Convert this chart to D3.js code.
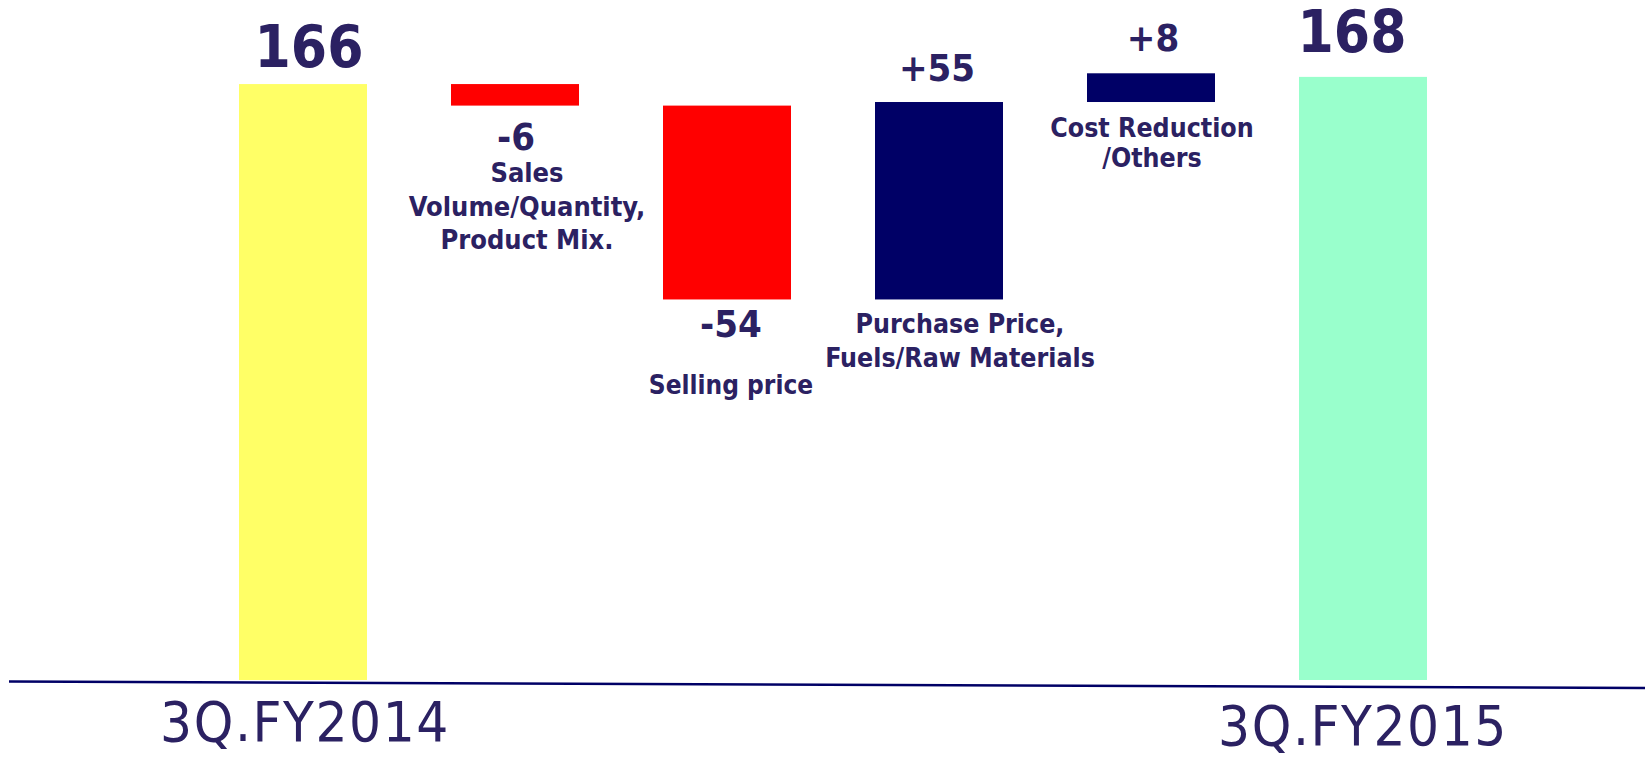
<!DOCTYPE html>
<html>
<head>
<meta charset="utf-8">
<script src="https://cdn.jsdelivr.net/npm/d3@7"></script>
<style>
  html, body { margin: 0; padding: 0; background: #ffffff; }
  svg { display: block; }
  text { font-family: "DejaVu Sans Condensed", "DejaVu Sans", sans-serif; fill: #2b2162; }
</style>
</head>
<body>
<svg id="chart" width="1645" height="757"></svg>
<script>
// Operating profit bridge, 3Q.FY2014 -> 3Q.FY2015
const categories = ["3Q.FY2014", "Sales Volume", "Selling price", "Purchase Price", "Cost Reduction", "3Q.FY2015"];
const values = [166, -6, -54, 55, 8, 168];
const kinds = ["total", "delta", "delta", "delta", "delta", "total"];
const valueLabels = ["166", "-6", "-54", "+55", "+8", "168"];
const factorLabels = [
  [],
  ["Sales", "Volume/Quantity,", "Product Mix."],
  ["Selling price"],
  ["Purchase Price,", "Fuels/Raw Materials"],
  ["Cost Reduction", "/Others"],
  []
];
const axisLabels = ["3Q.FY2014", "", "", "", "", "3Q.FY2015"];

const colors = { total0: "#ffff66", total1: "#99ffcc", down: "#ff0000", up: "#000066" };

// label placement relative to each bar (dx from bar centre, dy from bar end)
const valueLabelPos = [
  { dx: 6, dy: -17, at: "top" },
  { dx: 1, dy: 44, at: "bottom" },
  { dx: 4, dy: 37.5, at: "bottom" },
  { dx: -2, dy: -21, at: "top" },
  { dx: 2, dy: -22, at: "top" },
  { dx: -11, dy: -25, at: "top" }
];
const factorPos = [
  null,
  { dx: 12, y0: 182, lh: 33.5, fs: 27 },
  { dx: 4, y0: 394, lh: 34, fs: 26 },
  { dx: 21, y0: 333, lh: 34, fs: 26.5 },
  { dx: 1, y0: 137, lh: 29.5, fs: 26.5 }
];

const svg = d3.select("#chart");

const x = d3.scaleBand()
  .domain(categories)
  .range([197, 1469])
  .paddingInner(84 / 212)
  .paddingOuter(42 / 212);

const y = d3.scaleLinear().domain([0, 170]).range([680, 680 - 170 * 3.59]);

// running totals for the floating bars
let running = 0;
const bars = categories.map((c, i) => {
  let lo, hi;
  if (kinds[i] === "total") {
    lo = 0; hi = values[i]; running = values[i];
  } else {
    const start = running;
    running += values[i];
    lo = Math.min(start, running); hi = Math.max(start, running);
  }
  let fill;
  if (kinds[i] === "total") fill = i === 0 ? colors.total0 : colors.total1;
  else fill = values[i] < 0 ? colors.down : colors.up;
  return { c, i, lo, hi, fill };
});

svg.append("g").selectAll("rect")
  .data(bars)
  .join("rect")
  .attr("x", d => x(d.c))
  .attr("width", x.bandwidth())
  .attr("y", d => y(d.hi))
  .attr("height", d => y(d.lo) - y(d.hi))
  .attr("fill", d => d.fill);

// baseline, drawn with a slight tilt
svg.append("line")
  .attr("x1", 9).attr("y1", y(0) + 1.5)
  .attr("x2", 1645).attr("y2", y(0) + 8)
  .attr("stroke", "#000066")
  .attr("stroke-width", 2.4);

// value labels
svg.append("g").selectAll("text")
  .data(bars)
  .join("text")
  .attr("text-anchor", "middle")
  .attr("font-weight", "bold")
  .attr("font-size", d => kinds[d.i] === "total" ? 58 : 38)
  .attr("x", d => x(d.c) + x.bandwidth() / 2 + valueLabelPos[d.i].dx)
  .attr("y", d => {
    const p = valueLabelPos[d.i];
    return (p.at === "top" ? y(d.hi) : y(d.lo)) + p.dy;
  })
  .text(d => valueLabels[d.i]);

// factor descriptions
const fg = svg.append("g");
bars.forEach(d => {
  const lines = factorLabels[d.i];
  if (!lines.length) return;
  const p = factorPos[d.i];
  lines.forEach((t, k) => {
    fg.append("text")
      .attr("text-anchor", "middle")
      .attr("font-weight", "bold")
      .attr("font-size", p.fs)
      .attr("x", x(d.c) + x.bandwidth() / 2 + p.dx)
      .attr("y", p.y0 + k * p.lh)
      .text(t);
  });
});

// period labels under the baseline
svg.append("g").selectAll("text")
  .data(bars.filter(d => axisLabels[d.i]))
  .join("text")
  .attr("text-anchor", "middle")
  .attr("font-size", 56)
  .attr("letter-spacing", 1.6)
  .attr("x", d => x(d.c) + x.bandwidth() / 2 + (d.i === 0 ? 2 : 0))
  .attr("y", d => y(0) + (d.i === 0 ? 61 : 65))
  .text(d => axisLabels[d.i]);
</script>
</body>
</html>
